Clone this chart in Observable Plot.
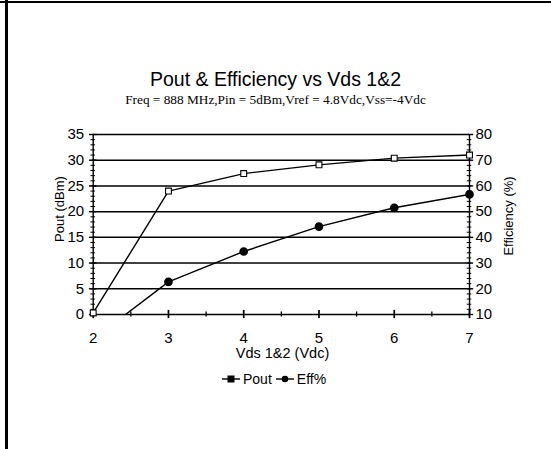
<!DOCTYPE html>
<html>
<head>
<meta charset="utf-8">
<script src="https://cdn.jsdelivr.net/npm/d3@7"></script>
<script src="https://cdn.jsdelivr.net/npm/@observablehq/plot@0.6"></script>
<style>
  body { margin: 0; background: #fff; }
  #wrap { position: relative; width: 551px; height: 449px; overflow: hidden; background: #fff; font-family: "Liberation Sans", Arial, sans-serif; color: #000; }
  .abs { position: absolute; white-space: nowrap; }
  #chart { position: absolute; left: 0; top: 0; }
</style>
</head>
<body>
<div id="wrap">
  <div id="chart"></div>
  <div class="abs" style="left:5px;top:0;width:2.5px;height:449px;background:#000"></div>
  <div class="abs" style="left:0;top:1px;width:551px;height:2px;background:#000"></div>
  <div class="abs" id="title" style="left:0;width:551px;top:68px;text-align:center;font-size:19.5px">Pout &amp; Efficiency vs Vds 1&amp;2</div>
  <div class="abs" id="sub" style="left:0;width:551px;top:91.5px;text-align:center;font-family:'Liberation Serif','Times New Roman',serif;font-size:13.3px">Freq = 888 MHz,Pin = 5dBm,Vref = 4.8Vdc,Vss=-4Vdc</div>
  <div class="abs" style="left:0;width:565px;top:345px;text-align:center;font-size:14.5px">Vds 1&amp;2 (Vdc)</div>
  <div class="abs" style="left:59px;top:209px;font-size:13px;transform:translate(-50%,-50%) rotate(-90deg)">Pout (dBm)</div>
  <div class="abs" style="left:508px;top:216px;font-size:13px;transform:translate(-50%,-50%) rotate(-90deg)">Efficiency (%)</div>
  <div class="abs" id="legend" style="left:222px;top:371px;font-size:14px;display:flex;align-items:center;gap:3px"></div>
</div>
<script>
const vds = [2, 3, 4, 5, 6, 7];
const pout = [0.3, 24.0, 27.4, 29.1, 30.4, 31.0];
const eff = [0.4, 22.7, 34.5, 44.2, 51.5, 56.7];
const leftTicks = [0, 5, 10, 15, 20, 25, 30, 35];
const rightTicks = [10, 20, 30, 40, 50, 60, 70, 80];
const xTicks = [2, 3, 4, 5, 6, 7];
const seriesNames = ["Pout", "Eff%"];

// efficiency (%) mapped onto the left (dBm) scale: 10% -> 0, 80% -> 35
const effToLeft = e => (e - 10) / 2;
const poutData = vds.map((x, i) => ({x, y: pout[i]}));
const effData = vds.map((x, i) => ({x, y: effToLeft(eff[i])}));
const minorY = d3.range(0, 35.01, 1);
const minorX = d3.range(2.5, 7, 1);

const font = "Liberation Sans, Arial, sans-serif";
const chart = Plot.plot({
  width: 551,
  height: 449,
  marginLeft: 92.7,
  marginRight: 82,
  marginTop: 134,
  marginBottom: 135,
  style: {fontFamily: font, fontSize: "15px", background: "transparent", color: "#000"},
  x: {domain: [2, 7]},
  y: {domain: [0, 35]},
  marks: [
    Plot.ruleY(leftTicks.slice(1), {stroke: "#000", strokeWidth: 1.5}),
    Plot.ruleY([0], {stroke: "#000", strokeWidth: 1.5}),
    Plot.ruleX([2], {stroke: "#000", strokeWidth: 1.4}),
    Plot.ruleX([7], {stroke: "#000", strokeWidth: 1.4}),
    // minor ticks crossing the left and right axes
    Plot.ruleY(minorY, {x1: 2 - 0.03, x2: 2 + 0.03, stroke: "#000", strokeWidth: 1}),
    Plot.ruleY(minorY, {x1: 7 - 0.03, x2: 7 + 0.03, stroke: "#000", strokeWidth: 1}),
    Plot.ruleY(leftTicks, {x1: 2 - 0.05, x2: 2 + 0.05, stroke: "#000", strokeWidth: 1.4}),
    Plot.ruleY(rightTicks.map(effToLeft), {x1: 7 - 0.01, x2: 7 + 0.055, stroke: "#000", strokeWidth: 1.4}),
    // ticks crossing the x axis
    Plot.ruleX(xTicks, {y1: -0.8, y2: 0.8, stroke: "#000", strokeWidth: 1.7}),
    Plot.ruleX(minorX, {y1: -0.5, y2: 0.5, stroke: "#000", strokeWidth: 1.3}),
    Plot.axisY({anchor: "left", ticks: leftTicks, tickSize: 0, tickPadding: 9, label: null, fontSize: 15}),
    Plot.axisY({anchor: "right", ticks: rightTicks.map(effToLeft), tickFormat: d => String(Math.round(d * 2 + 10)), tickSize: 0, tickPadding: 6, label: null, fontSize: 15}),
    Plot.axisX({ticks: xTicks, tickFormat: d => String(d), tickSize: 0, tickPadding: 17.6, label: null, fontSize: 15}),
    Plot.line(poutData, {x: "x", y: "y", stroke: "#000", strokeWidth: 1.4}),
    Plot.line(effData, {x: "x", y: "y", stroke: "#000", strokeWidth: 1.4, clip: true}),
    Plot.dot(poutData, {x: "x", y: "y", symbol: "square", r: 3.3, stroke: "#000", fill: "#fff", strokeWidth: 1.1}),
    Plot.dot(effData.filter(d => d.y >= 0), {x: "x", y: "y", symbol: "circle", r: 3.6, fill: "#000", stroke: "#000"})
  ]
});
document.getElementById("chart").appendChild(chart);

// legend
const legend = d3.select("#legend");
seriesNames.forEach((name, i) => {
  const sw = legend.append("svg").attr("width", 18).attr("height", 12);
  sw.append("line").attr("x1", 0).attr("x2", 18).attr("y1", 6).attr("y2", 6).attr("stroke", "#000").attr("stroke-width", 1.4);
  if (i === 0) sw.append("rect").attr("x", 5.5).attr("y", 2.5).attr("width", 7).attr("height", 7).attr("fill", "#000");
  else sw.append("circle").attr("cx", 9).attr("cy", 6).attr("r", 3.3).attr("fill", "#000");
  legend.append("span").text(name).style("margin-right", i === 0 ? "1px" : "0");
});
</script>
</body>
</html>
